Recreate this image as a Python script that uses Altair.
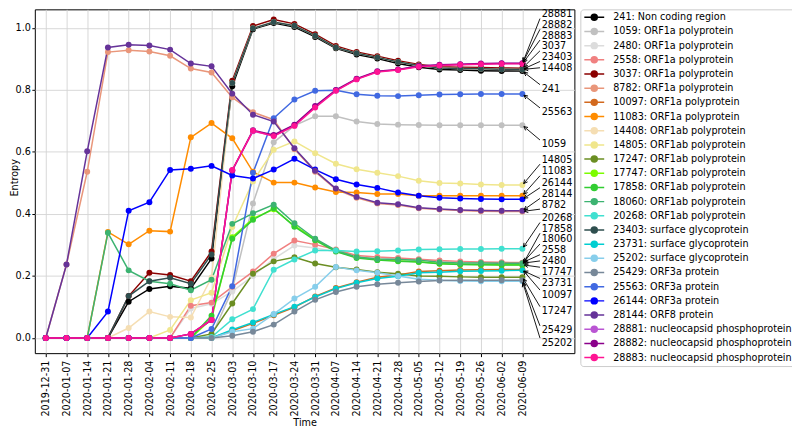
import math
import altair as alt
import pandas as pd

dates = ["2019-12-31", "2020-01-07", "2020-01-14", "2020-01-21", "2020-01-28",
         "2020-02-04", "2020-02-11", "2020-02-18", "2020-02-25", "2020-03-03",
         "2020-03-10", "2020-03-17", "2020-03-24", "2020-03-31", "2020-04-07",
         "2020-04-14", "2020-04-21", "2020-04-28", "2020-05-05", "2020-05-12",
         "2020-05-19", "2020-05-26", "2020-06-02", "2020-06-09"]

positions = ["241", "1059", "2480", "2558", "3037", "8782", "10097", "11083",
             "14408", "14805", "17247", "17747", "17858", "18060", "20268",
             "23403", "23731", "25202", "25429", "25563", "26144", "28144",
             "28881", "28882", "28883"]

regions = ["Non coding region"] + ["ORF1a polyprotein"] * 7 + ["ORF1ab polyprotein"] * 7 \
    + ["surface glycoprotein"] * 3 + ["ORF3a protein"] * 3 + ["ORF8 protein"] \
    + ["nucleocapsid phosphoprotein"] * 3

colors = ["#000000", "#c0c0c0", "#dcdcdc", "#f08080", "#8b0000", "#e9967a",
          "#d2691e", "#ff8c00", "#f5deb3", "#f0e68c", "#6b8e23", "#7cfc00",
          "#32cd32", "#3cb371", "#40e0d0", "#2f4f4f", "#00ced1", "#87ceeb",
          "#778899", "#4169e1", "#0000ff", "#663399", "#ba55d3", "#8b008b",
          "#ff1493"]

e241 = [0, 0, 0, 0, 0.117, 0.158, 0.167, 0.160, 0.256, 0.812, 0.996, 1.016, 1.003, 0.971, 0.934, 0.914, 0.901, 0.885, 0.873, 0.866, 0.864, 0.862, 0.861, 0.861]
e1059 = [0, 0, 0, 0, 0, 0, 0, 0, 0.005, 0.155, 0.434, 0.631, 0.685, 0.715, 0.715, 0.698, 0.690, 0.688, 0.687, 0.686, 0.686, 0.686, 0.686, 0.686]
e2480 = [0, 0, 0, 0, 0, 0, 0, 0.095, 0.110, 0.150, 0.200, 0.255, 0.298, 0.290, 0.278, 0.262, 0.257, 0.255, 0.252, 0.248, 0.245, 0.243, 0.242, 0.241]
e2558 = [0, 0, 0, 0, 0, 0, 0, 0.104, 0.114, 0.165, 0.214, 0.272, 0.314, 0.301, 0.285, 0.266, 0.261, 0.258, 0.254, 0.250, 0.247, 0.245, 0.244, 0.243]
e3037 = [0, 0, 0, 0, 0.135, 0.210, 0.203, 0.183, 0.279, 0.830, 1.006, 1.027, 1.013, 0.980, 0.942, 0.922, 0.909, 0.894, 0.882, 0.875, 0.873, 0.872, 0.871, 0.870]
e8782 = [0, 0.237, 0.536, 0.922, 0.928, 0.924, 0.910, 0.869, 0.856, 0.776, 0.728, 0.704, 0.609, 0.536, 0.479, 0.452, 0.434, 0.429, 0.418, 0.414, 0.411, 0.409, 0.408, 0.408]
e10097 = [0, 0, 0, 0, 0, 0, 0, 0, 0, 0.023, 0.047, 0.073, 0.099, 0.134, 0.161, 0.180, 0.196, 0.203, 0.214, 0.217, 0.219, 0.220, 0.221, 0.221]
e11083 = [0, 0, 0, 0.342, 0.302, 0.346, 0.343, 0.647, 0.693, 0.644, 0.536, 0.501, 0.501, 0.485, 0.471, 0.469, 0.464, 0.464, 0.459, 0.459, 0.459, 0.459, 0.459, 0.459]
e14408 = [0, 0, 0, 0, 0.032, 0.085, 0.068, 0.066, 0.195, 0.822, 0.999, 1.019, 1.007, 0.975, 0.937, 0.918, 0.905, 0.890, 0.879, 0.871, 0.869, 0.868, 0.867, 0.866]
e14805 = [0, 0, 0, 0, 0, 0, 0.026, 0.122, 0.146, 0.358, 0.505, 0.607, 0.634, 0.596, 0.562, 0.544, 0.533, 0.522, 0.507, 0.500, 0.498, 0.495, 0.493, 0.493]
e17247 = [0, 0, 0, 0, 0, 0, 0, 0, 0.013, 0.111, 0.207, 0.247, 0.260, 0.240, 0.228, 0.221, 0.212, 0.207, 0.200, 0.199, 0.197, 0.196, 0.196, 0.196]
e17747 = [0, 0, 0, 0, 0, 0, 0, 0, 0.062, 0.325, 0.385, 0.415, 0.362, 0.318, 0.281, 0.260, 0.253, 0.249, 0.246, 0.240, 0.238, 0.237, 0.236, 0.236]
e17858 = [0, 0, 0, 0, 0, 0, 0, 0, 0.072, 0.320, 0.381, 0.418, 0.359, 0.315, 0.279, 0.258, 0.251, 0.247, 0.245, 0.239, 0.237, 0.236, 0.235, 0.235]
e18060 = [0, 0, 0, 0.339, 0.218, 0.183, 0.175, 0.154, 0.188, 0.368, 0.402, 0.430, 0.370, 0.320, 0.282, 0.261, 0.255, 0.253, 0.251, 0.244, 0.242, 0.242, 0.241, 0.241]
e20268 = [0, 0, 0, 0, 0, 0, 0, 0, 0.003, 0.060, 0.093, 0.220, 0.253, 0.282, 0.282, 0.279, 0.280, 0.282, 0.285, 0.286, 0.287, 0.287, 0.288, 0.288]
e23403 = [0, 0, 0, 0, 0.135, 0.183, 0.194, 0.175, 0.269, 0.822, 0.999, 1.019, 1.007, 0.975, 0.937, 0.918, 0.905, 0.890, 0.879, 0.871, 0.869, 0.868, 0.867, 0.866]
e23731 = [0, 0, 0, 0, 0, 0, 0, 0, 0, 0.027, 0.050, 0.076, 0.101, 0.132, 0.159, 0.178, 0.192, 0.199, 0.210, 0.212, 0.215, 0.216, 0.217, 0.218]
e25202 = [0, 0, 0, 0, 0, 0, 0, 0, 0, 0.020, 0.030, 0.077, 0.127, 0.165, 0.229, 0.218, 0.210, 0.200, 0.189, 0.186, 0.184, 0.183, 0.183, 0.183]
e25429 = [0, 0, 0, 0, 0, 0, 0, 0, 0, 0.007, 0.020, 0.043, 0.085, 0.123, 0.148, 0.165, 0.173, 0.178, 0.182, 0.185, 0.186, 0.186, 0.186, 0.186]
e25563 = [0, 0, 0, 0, 0, 0, 0, 0, 0.029, 0.167, 0.533, 0.709, 0.769, 0.797, 0.799, 0.786, 0.781, 0.780, 0.783, 0.785, 0.786, 0.787, 0.787, 0.787]
e26144 = [0, 0, 0, 0.085, 0.410, 0.438, 0.542, 0.546, 0.555, 0.524, 0.514, 0.543, 0.578, 0.543, 0.512, 0.495, 0.484, 0.469, 0.459, 0.452, 0.450, 0.448, 0.447, 0.447]
e28144 = [0, 0.237, 0.602, 0.937, 0.946, 0.943, 0.930, 0.885, 0.876, 0.788, 0.720, 0.698, 0.612, 0.539, 0.482, 0.455, 0.436, 0.431, 0.420, 0.416, 0.413, 0.411, 0.410, 0.410]
e28881 = [0, 0, 0, 0, 0, 0, 0, 0.013, 0.058, 0.540, 0.667, 0.652, 0.686, 0.746, 0.798, 0.835, 0.859, 0.865, 0.876, 0.880, 0.882, 0.884, 0.885, 0.885]
e28882 = [0, 0, 0, 0, 0, 0, 0, 0.013, 0.058, 0.540, 0.670, 0.655, 0.688, 0.748, 0.800, 0.836, 0.860, 0.866, 0.877, 0.881, 0.883, 0.885, 0.886, 0.886]
e28883 = [0, 0, 0, 0, 0, 0, 0, 0.013, 0.058, 0.542, 0.668, 0.651, 0.684, 0.743, 0.797, 0.834, 0.858, 0.864, 0.875, 0.879, 0.881, 0.883, 0.884, 0.884]

series = [e241, e1059, e2480, e2558, e3037, e8782, e10097, e11083, e14408, e14805,
          e17247, e17747, e17858, e18060, e20268, e23403, e23731, e25202, e25429,
          e25563, e26144, e28144, e28881, e28882, e28883]

# y-position (entropy units) of each right-hand annotation label
label_y = [0.8025, 0.6240, 0.2484, 0.2830, 0.9407, 0.4298, 0.1400, 0.5375, 0.8714,
           0.5750, 0.0865, 0.2137, 0.3522, 0.3176, 0.3868, 0.9061, 0.1775, -0.0148,
           0.0246, 0.7275, 0.4990, 0.4644, 1.0445, 1.0099, 0.9753]

names = [f"{p}: {r}" for p, r in zip(positions, regions)]

X_DOM = [-0.528, 25.51]
Y_DOM = [-0.049, 1.0599]
W, H = 543, 346
PXW = W / (X_DOM[1] - X_DOM[0])
PXH = H / (Y_DOM[1] - Y_DOM[0])

rows = []
for name, vals in zip(names, series):
    for i, v in enumerate(vals):
        rows.append({"series": name, "week": i, "entropy": v})
df = pd.DataFrame(rows)

LABEL_X = 23.93
ARROW_X = 23.85
ann = []
for pos, vals, ly in zip(positions, series, label_y):
    final = vals[-1]
    dpx = (ly - final) * PXH
    if abs(dpx) > 5:
        sy = ly - math.copysign(4.5, dpx) / PXH
    else:
        sy = ly
    sx = ARROW_X
    dxp = (len(vals) - 1 - sx) * PXW
    dyp = -(final - sy) * PXH
    L = math.hypot(dxp, dyp)
    ex = (len(vals) - 1) - (dxp / L * 2.0) / PXW
    ey = final + (dyp / L * 2.0) / PXH
    ang = math.degrees(math.atan2(dxp, -dyp)) % 360
    ann.append({"pos": pos, "lx": LABEL_X, "ly": ly, "sx": sx, "sy": sy,
                "ex": ex, "ey": ey, "ang": ang})
ann_df = pd.DataFrame(ann)

xs = alt.Scale(domain=X_DOM, nice=False, zero=False)
ys = alt.Scale(domain=Y_DOM, nice=False, zero=False)

label_expr = "[" + ",".join(f"'{d}'" for d in dates) + "][datum.value]"
xaxis = alt.Axis(title="Time", values=list(range(len(dates))), labelExpr=label_expr,
                 labelAngle=270, labelAlign="right", labelBaseline="middle",
                 labelPadding=3.5, tickSize=3.5, labelOverlap=False, labelFlush=False,
                 titleY=70, titleBaseline="middle", grid=True)
yaxis = alt.Axis(title="Entropy", values=[0, 0.2, 0.4, 0.6, 0.8, 1.0], format=".1f",
                 tickSize=3, labelPadding=1.5, titleAngle=270, titleX=-20, titleY=169,
                 titleAlign="center", titleBaseline="middle", grid=True)

cscale = alt.Scale(domain=names, range=colors)

LEG_SYMBOL = "M-1,0L1,0M0.3,0A0.3,0.3,0,1,1,-0.3,0A0.3,0.3,0,1,1,0.3,0Z"
leg = alt.Legend(title=None, orient="none", direction="vertical",
                 legendX=549, legendY=0, symbolType=LEG_SYMBOL,
                 symbolSize=400, symbolStrokeWidth=1.5,
                 padding=3, rowPadding=4.27, clipHeight=10,
                 labelOffset=8, labelLimit=400,
                 strokeColor="#cccccc", cornerRadius=3)

lines = alt.Chart(df).mark_line(strokeWidth=1.5).encode(
    x=alt.X("week:Q", scale=xs, axis=xaxis),
    y=alt.Y("entropy:Q", scale=ys, axis=yaxis),
    color=alt.Color("series:N", scale=cscale, sort=names, legend=leg),
    order=alt.Order("week:Q"),
)

points = alt.Chart(df).mark_circle(size=36, opacity=1).encode(
    x=alt.X("week:Q", scale=xs, axis=xaxis),
    y=alt.Y("entropy:Q", scale=ys, axis=yaxis),
    fill=alt.Fill("series:N", scale=cscale, sort=names, legend=leg),
)

arrows = alt.Chart(ann_df).mark_rule(color="black", strokeWidth=0.9).encode(
    x=alt.X("sx:Q", scale=xs, axis=xaxis),
    y=alt.Y("sy:Q", scale=ys, axis=yaxis),
    x2="ex:Q",
    y2="ey:Q",
)

heads = alt.Chart(ann_df).mark_point(shape="M-0.6,1.2L0,0L0.6,1.2", filled=False,
                                     color="black", strokeWidth=0.9, size=40,
                                     opacity=1).encode(
    x=alt.X("ex:Q", scale=xs, axis=xaxis),
    y=alt.Y("ey:Q", scale=ys, axis=yaxis),
    angle=alt.Angle("ang:Q", scale=None),
)

labels = alt.Chart(ann_df).mark_text(align="left", baseline="middle", font="DejaVu Sans",
                                     fontSize=9.7, color="black").encode(
    x=alt.X("lx:Q", scale=xs, axis=xaxis),
    y=alt.Y("ly:Q", scale=ys, axis=yaxis),
    text="pos:N",
)

chart = alt.layer(lines, points, arrows, heads, labels).properties(
    width=W, height=H,
    autosize=alt.AutoSizeParams(type="none"),
    padding={"left": 27, "top": 0, "right": 219, "bottom": 76},
).configure_view(
    stroke="black", strokeWidth=1
).configure_axis(
    domain=False, gridColor="#d3d3d3", gridWidth=0.9, tickColor="black",
    labelFont="DejaVu Sans", labelFontSize=9.7, labelColor="black",
    titleFont="DejaVu Sans", titleFontSize=9.7, titleFontWeight="normal",
    titleColor="black"
).configure_legend(
    labelFont="DejaVu Sans", labelFontSize=9.7, labelColor="black"
)

chart.save("out.html", embed_options={"renderer": "svg", "actions": False})
